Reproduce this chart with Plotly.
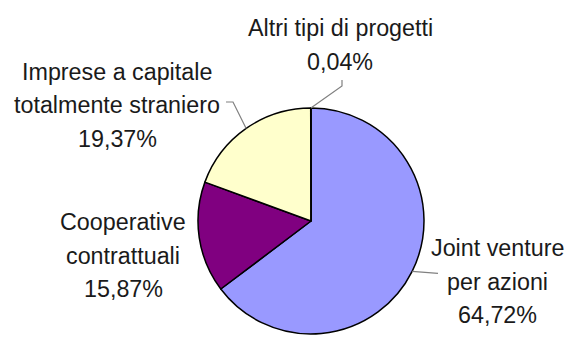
import math
import plotly.graph_objects as go

# Data
categories = ["Joint venture per azioni", "Cooperative contrattuali",
              "Imprese a capitale totalmente straniero", "Altri tipi di progetti"]
values = [64.72, 15.87, 19.37, 0.04]
value_labels = ["64,72%", "15,87%", "19,37%", "0,04%"]
label_lines = [["Joint venture", "per azioni"], ["Cooperative", "contrattuali"],
               ["Imprese a capitale", "totalmente straniero"], ["Altri tipi di progetti"]]
colors = ["#9999FF", "#800080", "#FFFFCC", "#CCFFFF"]

W, H = 582, 341
CX, CY, R = 311, 221, 113


def px(x, y):
    return x / W, 1 - y / H


fig = go.Figure(go.Pie(
    labels=categories, values=values, sort=False, direction="clockwise", rotation=0,
    marker=dict(colors=colors, line=dict(color="#000000", width=1.5)),
    textinfo="none", hoverinfo="label+percent", showlegend=False,
    domain=dict(x=[(CX - R) / W, (CX + R) / W], y=[(H - CY - R) / H, (H - CY + R) / H]),
))

# label text positions (center x, first line center y)
label_pos = [(497, 248), (123, 222), (117, 72), (340, 28)]
line_gap = 33.5
font = dict(family="Liberation Sans, Arial, sans-serif", size=23.3, color="#1a1a1a")
annotations = []
for lines, val, (lx, ly) in zip(label_lines, value_labels, label_pos):
    for i, t in enumerate(lines + [val]):
        x, y = px(lx, ly + i * line_gap)
        annotations.append(dict(x=x, y=y, xref="paper", yref="paper", text=t,
                                showarrow=False, font=font, xanchor="center", yanchor="middle"))

# edge points at slice mid-angles
total = sum(values)
edges = []
cum = 0
for v in values:
    mid = (cum + v / 2) / total * 2 * math.pi
    edges.append((CX + R * math.sin(mid), CY - R * math.cos(mid)))
    cum += v

leaders = {
    0: [(edges[0][0], edges[0][1]), (438, edges[0][1] + 2)],
    2: [(226, 102), (233, 102), edges[2]],
    3: [edges[3], (342, 86), (342, 80)],
}
shapes = []
for k, pts in leaders.items():
    path = ""
    for j, (x, y) in enumerate(pts):
        X, Y = px(x, y)
        path += ("M" if j == 0 else " L") + f" {X} {Y}"
    shapes.append(dict(type="path", path=path, xref="paper", yref="paper",
                       line=dict(color="#808080", width=1.2)))

fig.update_layout(width=W, height=H, margin=dict(l=0, r=0, t=0, b=0),
                  paper_bgcolor="white", plot_bgcolor="white",
                  annotations=annotations, shapes=shapes)
fig.write_html("out.html")
